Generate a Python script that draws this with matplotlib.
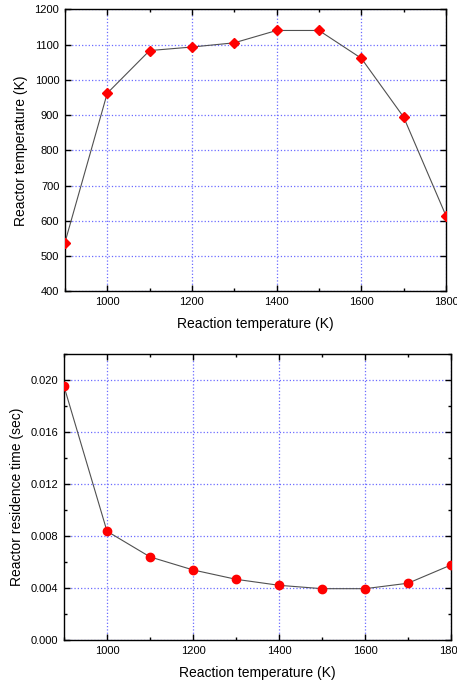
import matplotlib
matplotlib.use("Agg")
import matplotlib.pyplot as plt
from matplotlib.ticker import MultipleLocator, FormatStrFormatter

plt.rcParams["font.family"] = ["Liberation Sans", "DejaVu Sans"]

reaction_temp = [900, 1000, 1100, 1200, 1300, 1400, 1500, 1600, 1700, 1800]
reactor_temp = [538, 962, 1083, 1093, 1105, 1140, 1140, 1061, 894, 614]
residence_time = [0.0195, 0.00837, 0.0064, 0.0054, 0.00468, 0.00422,
                  0.00396, 0.00396, 0.00438, 0.00578]

GRID_COLOR = "#6b6bff"


def style_axes(ax):
    ax.tick_params(which="both", direction="in", top=True, right=True,
                   labelsize=8, pad=4)
    ax.tick_params(which="major", length=4, width=1)
    ax.tick_params(which="minor", length=2.5, width=1)
    ax.grid(True, which="major", color=GRID_COLOR, linestyle=":", linewidth=0.9)
    for spine in ax.spines.values():
        spine.set_linewidth(1.0)
    ax.set_axisbelow(True)


fig = plt.figure(figsize=(4.57, 6.85), dpi=100)

# reactor temperature vs reaction temperature
ax1 = fig.add_axes([0.142, 0.5747, 0.834, 0.4117])
ax1.plot(reaction_temp, reactor_temp, color="#505050", linewidth=0.8,
         marker="D", markersize=5.5, markerfacecolor="red",
         markeredgecolor="red", zorder=3)
ax1.set_xlim(900, 1800)
ax1.set_ylim(400, 1200)
ax1.xaxis.set_major_locator(MultipleLocator(200))
ax1.xaxis.set_minor_locator(MultipleLocator(100))
ax1.yaxis.set_major_locator(MultipleLocator(100))
style_axes(ax1)
ax1.set_xlabel("Reaction temperature (K)", fontsize=10, labelpad=7)
ax1.set_ylabel("Reactor temperature (K)", fontsize=10, labelpad=5)

# reactor residence time vs reaction temperature
ax2 = fig.add_axes([0.140, 0.0653, 0.847, 0.4184])
ax2.plot(reaction_temp, residence_time, color="#505050", linewidth=0.8,
         marker="o", markersize=6, markerfacecolor="red",
         markeredgecolor="red", zorder=3)
ax2.set_xlim(900, 1800)
ax2.set_ylim(0, 0.022)
ax2.xaxis.set_major_locator(MultipleLocator(200))
ax2.xaxis.set_minor_locator(MultipleLocator(100))
ax2.yaxis.set_major_locator(MultipleLocator(0.004))
ax2.yaxis.set_minor_locator(MultipleLocator(0.002))
ax2.yaxis.set_major_formatter(FormatStrFormatter("%.3f"))
style_axes(ax2)
ax2.set_xlabel("Reaction temperature (K)", fontsize=10, labelpad=7)
ax2.set_ylabel("Reactor residence time (sec)", fontsize=10, labelpad=5)

fig.savefig("out.png", dpi=100)
